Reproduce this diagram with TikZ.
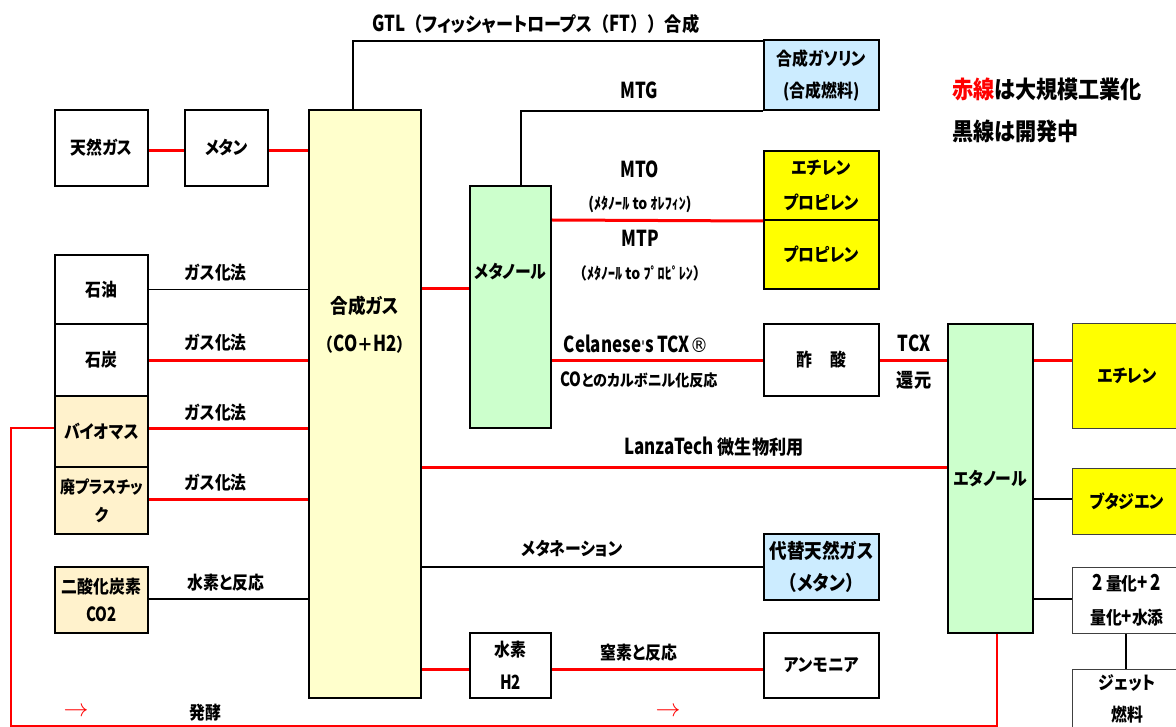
\documentclass[tikz,border=0pt]{standalone}
\usepackage{fontspec}
\setmainfont{Noto Sans CJK JP}[FakeStretch=0.88, RawFeature=+palt]
\newfontfamily\jpfull{Noto Sans CJK JP}[FakeStretch=0.88]
\newfontfamily\lat{Noto Sans CJK JP}[FakeStretch=0.77, Scale=1.22]
\newfontfamily\regfont{DejaVu Sans}[FakeStretch=0.9]
\definecolor{synY}{HTML}{FFFFCC}
\definecolor{grn}{HTML}{CCFFCC}
\definecolor{lblue}{HTML}{CCECFF}
\definecolor{lorange}{HTML}{FFF2CC}
\definecolor{ylw}{HTML}{FFFF00}
\newcommand\fsz[2]{\fontsize{#1}{#2}\selectfont\bfseries}
\newcommand\lp{{\jpfull （}}
\newcommand\rp{{\jpfull ）}}
\newcommand\latb[1]{{\fontsize{18}{20}\selectfont\lat #1}}
\tikzset{
  box/.style={draw=black, line width=2pt, inner sep=0pt, align=center, font=\fsz{18}{32}},
  thinbox/.style={draw=black!75, line width=1pt, inner sep=0pt, align=center, font=\fsz{18}{33}},
  lbl/.style={inner sep=0pt, font=\fsz{18}{20}},
  biglbl/.style={inner sep=0pt, font=\fsz{19.5}{22}},
  small/.style={inner sep=0pt, font=\fsz{16}{18}},
  redln/.style={draw=red, line width=3pt},
  blkln/.style={draw=black, line width=2pt},
  thinln/.style={draw=black, line width=1pt},
  fbln/.style={draw=red, line width=1.5pt},
}
\begin{document}
\begin{tikzpicture}[x=1pt,y=-1pt]
\useasboundingbox (0,0) rectangle (1176,727);
% left column
\node[box, minimum width=93, minimum height=76] (tennen) at (101.5,148) {天然ガス};
\node[box, minimum width=83, minimum height=76] (metan) at (226.5,148) {メタン};
\node[box, minimum width=93, minimum height=69] (sekiyu) at (101.5,289.5) {石油};
\node[box, minimum width=93, minimum height=72] (sekitan) at (101.5,360) {石炭};
\node[box, fill=lorange, minimum width=93, minimum height=71] (bio) at (101.5,431.5) {バイオマス};
\node[box, fill=lorange, minimum width=93, minimum height=67, font=\fsz{17}{28}] (plastic) at (101.5,500.5) {廃プラスチッ\\ク};
\node[box, fill=lorange, minimum width=93, minimum height=66, font=\fsz{18}{28}] (co2) at (101.5,600) {二酸化炭素\\{\fontsize{16}{18}\selectfont\lat CO2}};
% syngas
\node[box, fill=synY, minimum width=112, minimum height=588] (syngas) at (365,404) {};
\node[inner sep=0pt, font=\fsz{20}{22}] (sgt1) at (365,306) {合成ガス};
\node[inner sep=0pt, font=\fsz{18}{20}] (sgt2) at (365,344) {\lp{\lat CO}{\jpfull ＋}{\lat H2}\rp};
% methanol
\node[box, fill=grn, minimum width=81, minimum height=242] (methanol) at (510.5,307) {};
\node[inner sep=0pt, font=\fsz{18}{20}] (metht) at (510.5,272) {メタノール};
% right products
\node[box, fill=lblue, minimum width=115, minimum height=70] (gasoline) at (821.5,75) {合成ガソリン\\(合成燃料)};
\node[box, fill=ylw, minimum width=115, minimum height=69, font=\fsz{18}{35}] (ethprop) at (821.5,185.5) {エチレン\\プロピレン};
\node[box, fill=ylw, minimum width=115, minimum height=69] (prop) at (821.5,254.5) {プロピレン};
\node[box, minimum width=115, minimum height=72] (acetic) at (821.5,360) {酢\hspace{1em}酸};
\node[box, fill=lblue, line width=2.5pt, minimum width=115, minimum height=66, font=\fsz{20}{32}] (sng) at (821.5,567) {代替天然ガス\\\lp メタン\rp};
\node[box, minimum width=81, minimum height=65, font=\fsz{18}{33}] (hydrogen) at (510.5,665.5) {水素\\{\fontsize{16}{18}\selectfont\lat H2}};
\node[box, minimum width=115, minimum height=65] (ammonia) at (821.5,665.5) {アンモニア};
% ethanol
\node[box, fill=grn, minimum width=85, minimum height=309] (ethanol) at (990.5,478.5) {エタノール};
\node[thinbox, fill=ylw, minimum width=110, minimum height=104] (ethylene) at (1127,376) {エチレン};
\node[thinbox, fill=ylw, minimum width=110, minimum height=66] (butadiene) at (1127,501) {ブタジエン};
\node[thinbox, minimum width=110, minimum height=66, font=\fsz{18}{34}] (dimer) at (1127,600) {{\lat 2}\,量化{\lat +}\,{\lat 2}\\量化{\lat +}水添};
\node[thinbox, minimum width=110, minimum height=71] (jet) at (1127,704.5) {};
\node[inner sep=0pt, align=center, font=\fsz{18}{32}] (jett) at (1127,699) {ジェット\\燃料};
% connectors
\draw[redln] (tennen.east |- 0,151) -- (metan.west |- 0,151);
\draw[redln] (metan.east |- 0,151) -- (syngas.west |- 0,151);
\draw[blkln] (syngas.north -| 353,0) -- (353,41) -- (gasoline.west |- 0,41);
\draw[blkln] (methanol.north -| 521,0) |- (gasoline.south west);
\draw[redln] (methanol.east |- 0,220) -- (ethprop.south west);
\draw[redln] (syngas.east |- 0,289) -- (methanol.west |- 0,289);
\draw[thinln] (sekiyu.east) -- (syngas.west |- sekiyu.east);
\draw[redln] (sekitan.east |- 0,361) -- (syngas.west |- 0,361);
\draw[redln] (bio.east |- 0,428) -- (syngas.west |- 0,428);
\draw[redln] (plastic.east |- 0,499) -- (syngas.west |- 0,499);
\draw[blkln] (co2.east |- 0,599) -- (syngas.west |- 0,599);
\draw[redln] (methanol.east |- 0,361) -- (acetic.west |- 0,361);
\draw[redln] (acetic.east |- 0,361) -- (ethanol.west |- 0,361);
\draw[redln] (ethanol.east |- 0,361) -- (ethylene.west |- 0,361);
\draw[redln] (syngas.east |- 0,467) -- (ethanol.west |- 0,467);
\draw[blkln] (ethanol.east |- 0,499) -- (butadiene.west |- 0,499);
\draw[blkln] (syngas.east |- 0,567) -- (sng.west);
\draw[blkln] (ethanol.east |- 0,599) -- (dimer.west |- 0,599);
\draw[blkln] (dimer.south -| 1125.5,0) -- (jet.north -| 1125.5,0);
\draw[redln] (syngas.east |- 0,669) -- (hydrogen.west |- 0,669);
\draw[redln] (hydrogen.east |- 0,669) -- (ammonia.west |- 0,669);
\draw[fbln] (bio.west |- 0,428) -- (11,428) -- (11,726) -- (997,726) -- (ethanol.south -| 997,0);
% labels
\node[biglbl] (gtl) at (536,24) {\latb{GTL}\lp フィッシャートロープス\lp\latb{FT}\rp\rp 合成};
\node[lbl] (mtg) at (639,90) {\lat MTG};
\node[lbl] (mto) at (640,169) {\lat MTO};
\node[small] (mtos) at (640,204) {(ﾒﾀﾉｰﾙ {\jpfull to} ｵﾚﾌｨﾝ)};
\node[lbl] (mtp) at (640,238) {\lat MTP};
\node[small] (mtps) at (640,273) {\lp ﾒﾀﾉｰﾙ {\jpfull to} ﾌﾟﾛﾋﾟﾚﾝ\rp};
\node[inner sep=0pt, anchor=west, font=\fsz{24}{26}] (leg1) at (952,89) {\textcolor{red}{赤線}は大規模工業化};
\node[inner sep=0pt, anchor=west, font=\fsz{24}{26}] (leg2) at (952,131) {黒線は開発中};
\node[lbl] (g1) at (216,273) {ガス化法};
\node[lbl] (g2) at (216,343) {ガス化法};
\node[lbl] (g3) at (216,413) {ガス化法};
\node[lbl] (g4) at (216,483) {ガス化法};
\node[lbl] (tcx) at (636,344) {\lat Celanese{\fontsize{16}{18}\selectfont\mdseries\regfont '}s TCX{\fontsize{20}{22}\selectfont\mdseries\regfont ®}};
\node[small] (carb) at (639,380) {{\lat CO}とのカルボニル化反応};
\node[lbl] (tcx2) at (914,343) {\lat TCX};
\node[biglbl] (kangen) at (914,380) {還元};
\node[biglbl] (lanza) at (714,447) {\latb{LanzaTech} 微生物利用};
\node[lbl] (methan) at (572,549) {メタネーション};
\node[lbl] (h2r) at (226,583) {水素と反応};
\node[lbl] (n2r) at (639,653) {窒素と反応};
\node[inner sep=0pt, text=red, font=\fontsize{24}{26}\selectfont] (arr1) at (76,712) {$\rightarrow$};
\node[inner sep=0pt, text=red, font=\fontsize{24}{26}\selectfont] (arr2) at (668,712) {$\rightarrow$};
\node[lbl] (hakko) at (205,713) {発酵};
\end{tikzpicture}
\end{document}
